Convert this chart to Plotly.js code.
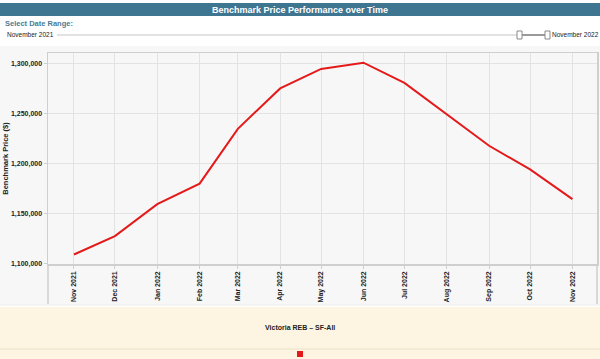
<!DOCTYPE html>
<html>
<head>
<meta charset="utf-8">
<script src="https://cdn.plot.ly/plotly-3.0.1.min.js"></script>
<style>
html,body{margin:0;padding:0;background:#fff;}
#chart{width:600px;height:359px;}
</style>
</head>
<body>
<div id="chart"></div>
<script>
// ---- data ----
const months = ['2021-11-01','2021-12-01','2022-01-01','2022-02-01','2022-03-01','2022-04-01','2022-05-01','2022-06-01','2022-07-01','2022-08-01','2022-09-01','2022-10-01','2022-11-01'];
const tickLabels = ['Nov 2021','Dec 2021','Jan 2022','Feb 2022','Mar 2022','Apr 2022','May 2022','Jun 2022','Jul 2022','Aug 2022','Sep 2022','Oct 2022','Nov 2022'];
const benchmarkPrice = [1109000,1127500,1159500,1180000,1235000,1275500,1295000,1301300,1281000,1249800,1218000,1194300,1164500];
const seriesName = 'Victoria REB \u2013 SF-All';
const chartTitle = 'Benchmark Price Performance over Time';
const rangeStartLabel = 'November 2021';
const rangeEndLabel = 'November 2022';

const H = 359, W = 600;
const py = p => 1 - p / H;
const px = p => p / W;
const FONT = '"Liberation Sans", Arial, sans-serif';

const trace = {
  x: months, y: benchmarkPrice, type: 'scatter', mode: 'lines',
  name: seriesName,
  line: {color: '#e41a1a', width: 2},
  showlegend: false
};

const layout = {
  width: W, height: H,
  margin: {l: 0, r: 0, t: 0, b: 0},
  paper_bgcolor: '#ffffff',
  plot_bgcolor: '#f7f7f7',
  font: {family: FONT, color: '#222'},
  showlegend: false,
  xaxis: {
    type: 'date',
    domain: [px(48), px(597)],
    range: ['2021-10-13', '2022-11-19'],
    tickmode: 'array', tickvals: months, ticktext: tickLabels,
    tickangle: -90,
    tickfont: {size: 7, family: FONT, weight: 'bold', color: '#222'},
    showgrid: true, gridcolor: '#e3e3e3', gridwidth: 1,
    showline: true, linecolor: '#cfcfcf', linewidth: 1.5, mirror: true,
    ticks: 'outside', ticklen: 3, tickcolor: '#cfcfcf',
    zeroline: false, fixedrange: true
  },
  yaxis: {
    domain: [py(264), py(53)],
    range: [1099500, 1311000],
    tickmode: 'linear', tick0: 1100000, dtick: 50000,
    tickformat: ',',
    tickfont: {size: 7, family: FONT, weight: 'bold', color: '#222'},
    showgrid: true, gridcolor: '#e3e3e3', gridwidth: 1,
    showline: true, linecolor: '#cfcfcf', linewidth: 1.5, mirror: true,
    ticks: 'outside', ticklen: 3, tickcolor: '#cfcfcf',
    zeroline: false, fixedrange: true,
    title: {text: 'Benchmark Price ($)', font: {size: 7.5, family: FONT, weight: 'bold', color: '#222'}, standoff: 1}
  },
  shapes: [
    {type: 'rect', xref: 'paper', yref: 'paper', x0: 0, x1: 1, y0: py(305), y1: py(46), fillcolor: '#f7f7f7', line: {width: 0}, layer: 'below'},
    {type: 'rect', xref: 'paper', yref: 'paper', x0: 0, x1: 1, y0: py(16), y1: py(3), fillcolor: '#3e7590', line: {width: 0}},
    {type: 'rect', xref: 'paper', yref: 'paper', x0: 0, x1: 1, y0: 0, y1: py(307), fillcolor: '#fdf5e1', line: {width: 0}},
    {type: 'line', xref: 'paper', yref: 'paper', x0: 0, x1: 1, y0: py(349), y1: py(349), line: {color: '#ebe1c8', width: 1}},
    {type: 'rect', xref: 'paper', yref: 'paper', x0: px(297), x1: px(303), y0: py(357), y1: py(351), fillcolor: '#e41a1a', line: {width: 0}},
    {type: 'line', xref: 'paper', yref: 'paper', x0: px(48), x1: px(48), y0: py(304), y1: py(264), line: {color: '#cfcfcf', width: 1.5}},
    {type: 'line', xref: 'paper', yref: 'paper', x0: px(597), x1: px(597), y0: py(304), y1: py(264), line: {color: '#cfcfcf', width: 1.5}},
    {type: 'line', xref: 'paper', yref: 'paper', x0: 0, x1: 1, y0: py(305), y1: py(305), line: {color: '#ececec', width: 1}},
    {type: 'line', xref: 'paper', yref: 'paper', x0: px(57), x1: px(518), y0: py(35), y1: py(35), line: {color: '#e2e2e2', width: 2}},
    {type: 'line', xref: 'paper', yref: 'paper', x0: px(522), x1: px(546), y0: py(35), y1: py(35), line: {color: '#9a9a9a', width: 2}},
    {type: 'rect', xref: 'paper', yref: 'paper', x0: px(517), x1: px(522), y0: py(39), y1: py(31), fillcolor: '#ffffff', line: {color: '#8a8a8a', width: 1}},
    {type: 'rect', xref: 'paper', yref: 'paper', x0: px(545), x1: px(550), y0: py(39), y1: py(31), fillcolor: '#ffffff', line: {color: '#8a8a8a', width: 1}}
  ],
  annotations: [
    {xref: 'paper', yref: 'paper', x: 0.5, y: py(9.5), text: chartTitle, showarrow: false, xanchor: 'center', yanchor: 'middle',
     font: {size: 9, family: FONT, weight: 'bold', color: '#ffffff'}},
    {xref: 'paper', yref: 'paper', x: px(3), y: py(24), text: 'Select Date Range:', showarrow: false, xanchor: 'left', yanchor: 'middle',
     font: {size: 7.5, family: FONT, weight: 'bold', color: '#4a7c95'}},
    {xref: 'paper', yref: 'paper', x: px(5), y: py(35), text: rangeStartLabel, showarrow: false, xanchor: 'left', yanchor: 'middle',
     font: {size: 6.5, family: FONT, color: '#222'}},
    {xref: 'paper', yref: 'paper', x: px(550), y: py(35), text: rangeEndLabel, showarrow: false, xanchor: 'left', yanchor: 'middle',
     font: {size: 6.5, family: FONT, color: '#222'}},
    {xref: 'paper', yref: 'paper', x: 0.5, y: py(327), text: seriesName, showarrow: false, xanchor: 'center', yanchor: 'middle',
     font: {size: 7, family: FONT, weight: 'bold', color: '#222'}}
  ]
};

Plotly.newPlot('chart', [trace], layout, {displayModeBar: false, staticPlot: true});
</script>
</body>
</html>
